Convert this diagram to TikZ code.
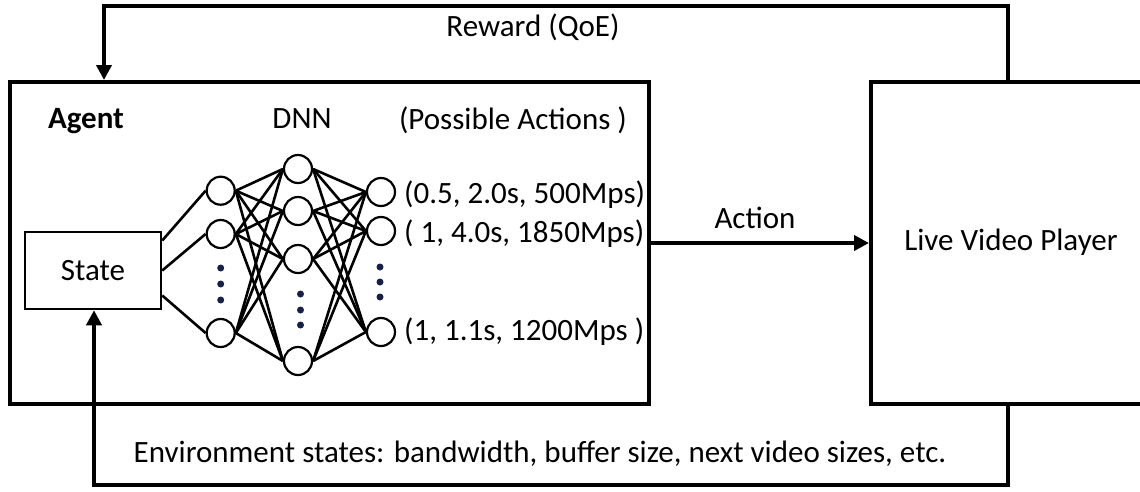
\documentclass[tikz,border=0pt]{standalone}
\usepackage{fontspec}
\setmainfont{Carlito}
\usetikzlibrary{arrows.meta}
\definecolor{dotblue}{RGB}{22,32,72}
\begin{document}
\begin{tikzpicture}[x=1pt,y=-1pt,
  txt/.style={font=\fontsize{31}{37}\selectfont, inner sep=0pt},
  frame/.style={draw, line width=4pt, rectangle, inner sep=0pt},
  flow/.style={line width=4pt, line join=miter, -{Triangle[length=15pt,width=15pt]}},
  neuron/.style={draw, circle, line width=2.2pt, minimum size=28pt, inner sep=0pt, fill=white},
  link/.style={line width=2.6pt},
  vdot/.style={circle, fill=dotblue, inner sep=0pt, minimum size=7pt}]
\useasboundingbox (0,0) rectangle (1140,491);
\clip (0,0) rectangle (1140,491);

% main blocks
\node[frame, minimum width=639pt, minimum height=322pt] (agent) at (329.5,243) {};
\node[frame, minimum width=290pt, minimum height=322pt] (player) at (1016,243) {};
\node[txt, anchor=base] (playertxt) at (1011,250) {Live Video Player};
\node[draw, line width=2.5pt, minimum width=136pt, minimum height=77pt, inner sep=0pt,
      font=\fontsize{31}{37}\selectfont] (state) at (93,270.5) {State};

% labels inside the agent
\node[txt, anchor=base, font=\fontsize{31}{37}\selectfont\bfseries] (agenttxt) at (86,128) {Agent};
\node[txt, anchor=base] (dnn) at (302,128) {DNN};
\node[txt, anchor=base] (acts) at (513,129) {(Possible Actions )};

% network layers
\foreach \n/\y in {a/190.7, b/234, c/333}
  \node[neuron] (l1\n) at (220.7,\y) {};
\foreach \n/\y in {a/169, b/211, c/259, d/361}
  \node[neuron] (l2\n) at (298,\y) {};
\foreach \n/\y in {a/192, b/231, c/332}
  \node[neuron] (l3\n) at (381,\y) {};

% connections
\draw[link] ([yshift=30pt]state.east) -- (l1a.west);
\draw[link] (state.east) -- (l1b.west);
\draw[link] ([yshift=-25pt]state.east) -- (l1c.west);
\foreach \i in {a,b,c}
  \foreach \j in {a,b,c,d}
    \draw[link] (l1\i.east) -- (l2\j.west);
\foreach \i in {a,b,c,d}
  \foreach \j in {a,b,c}
    \draw[link] (l2\i.east) -- (l3\j.west);

% ellipsis dots
\foreach \y [count=\k] in {268,284,300} \node[vdot] (d1\k) at (220.7,\y) {};
\foreach \y [count=\k] in {294,310,325} \node[vdot] (d2\k) at (300.5,\y) {};
\foreach \y [count=\k] in {267,282,297} \node[vdot] (d3\k) at (380,\y) {};

% action values
\node[txt, anchor=base west] (v1) at (404,203) {(0.5, 2.0s, 500Mps)};
\node[txt, anchor=base west] (v2) at (404,242) {( 1, 4.0s, 1850Mps)};
\node[txt, anchor=base west] (v3) at (404,340) {(1, 1.1s, 1200Mps )};

% action
\draw[flow] (agent.east) -- (player.west);
\node[txt, anchor=base] (acttxt) at (755,228) {Action};

% reward loop
\coordinate (rR) at (1008,6);
\coordinate (rL) at (104,6);
\draw[flow] (rR |- player.north) -- (rR) -- (rL) -- (rL |- agent.north);
\node[txt, anchor=base] (reward) at (533,36) {Reward (QoE)};

% environment feedback loop
\coordinate (eR) at (1008,485);
\coordinate (eL) at (94,485);
\draw[flow] (eR |- player.south) -- (eR) -- (eL) -- (eL |- state.south);
\node[txt, anchor=base] (envtxt) at (540,462) {Environment states: bandwidth, buffer size, next video sizes, etc.};
\end{tikzpicture}
\end{document}
